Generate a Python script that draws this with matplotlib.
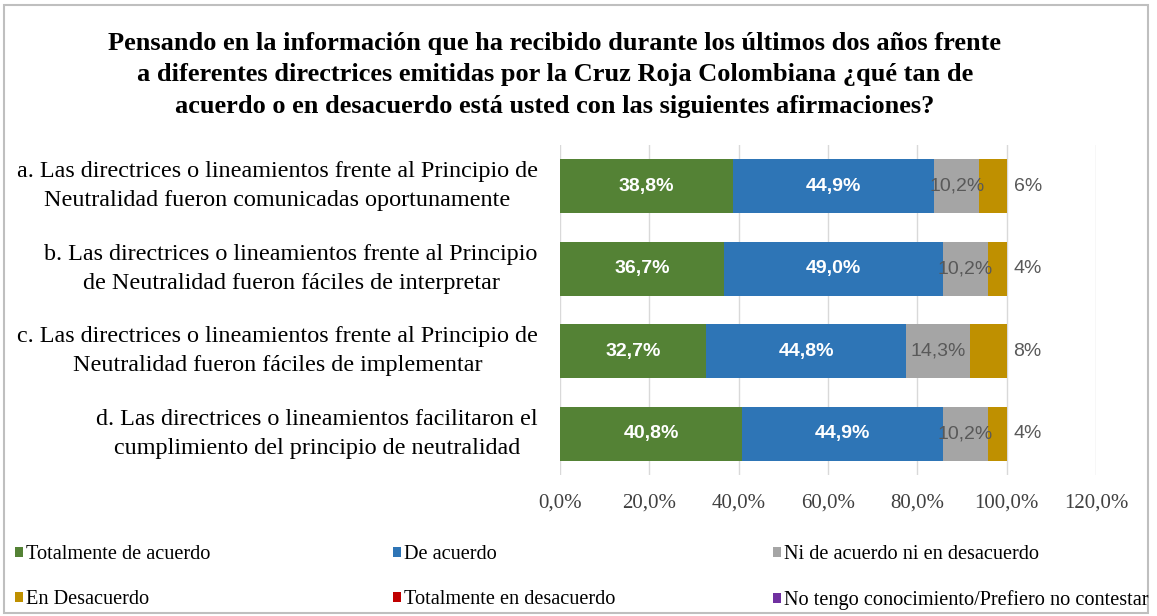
import numpy as np
import matplotlib.pyplot as plt
from matplotlib.patches import Patch, Rectangle

# datos
preguntas = [
    "a. Las directrices o lineamientos frente al Principio de\nNeutralidad fueron comunicadas oportunamente",
    "b. Las directrices o lineamientos frente al Principio\nde Neutralidad fueron fáciles de interpretar",
    "c. Las directrices o lineamientos frente al Principio de\nNeutralidad fueron fáciles de implementar",
    "d. Las directrices o lineamientos facilitaron el\ncumplimiento del principio de neutralidad",
]
totalmente_acuerdo = [38.8, 36.7, 32.7, 40.8]
de_acuerdo = [44.9, 49.0, 44.8, 44.9]
ni_ni = [10.2, 10.2, 14.3, 10.2]
en_desacuerdo = [6.1, 4.1, 8.2, 4.1]
en_desacuerdo_txt = ["6%", "4%", "8%", "4%"]
totalmente_desacuerdo = [0, 0, 0, 0]
no_sabe = [0, 0, 0, 0]

series = ["Totalmente de acuerdo", "De acuerdo", "Ni de acuerdo ni en desacuerdo",
          "En Desacuerdo", "Totalmente en desacuerdo", "No tengo conocimiento/Prefiero no contestar"]
colores = ["#548235", "#2E75B6", "#A5A5A5", "#BF9000", "#C00000", "#7030A0"]
xticks = [0, 20, 40, 60, 80, 100, 120]

titulo = ("Pensando en la información que ha recibido durante los últimos dos años frente\n"
          "a diferentes directrices emitidas por la Cruz Roja Colombiana ¿qué tan de\n"
          "acuerdo o en desacuerdo está usted con las siguientes afirmaciones?")

serif = ["Liberation Serif", "DejaVu Serif"]
narrow = ["Liberation Sans Narrow", "Liberation Sans", "DejaVu Sans"]

fig = plt.figure(figsize=(11.57, 6.16), dpi=100)
ax = fig.add_axes([560/1157, 1-475/616, 536/1157, 330/616])

y = np.arange(len(preguntas))
vals = [totalmente_acuerdo, de_acuerdo, ni_ni, en_desacuerdo, totalmente_desacuerdo, no_sabe]
left = np.zeros(len(preguntas))
rects = []
for v, c in zip(vals, colores):
    r = ax.barh(y, v, left=left, height=0.65, color=c, zorder=2)
    rects.append(r)
    left = left + np.array(v)

# etiquetas de datos
fmt = lambda lst: [f"{v:.1f}%".replace(".", ",") for v in lst]
ax.bar_label(rects[0], labels=fmt(totalmente_acuerdo), label_type="center", color="white",
             fontsize=14, fontweight="bold", family=narrow)
ax.bar_label(rects[1], labels=fmt(de_acuerdo), label_type="center", color="white",
             fontsize=14, fontweight="bold", family=narrow)
ax.bar_label(rects[2], labels=fmt(ni_ni), label_type="center", color="#595959",
             fontsize=14, family=narrow)
ax.bar_label(rects[3], labels=en_desacuerdo_txt, padding=5,
             color="#595959", fontsize=14, family=narrow)

ax.set_xlim(0, 120)
ax.set_ylim(len(preguntas) - 0.5, -0.5)
ax.set_xticks(xticks)
ax.set_xticklabels(fmt(xticks), family=serif, fontsize=15, color="#404040")
ax.set_yticks(y)
ax.set_yticklabels(preguntas, family=serif, fontsize=17.4)
for lbl in ax.get_yticklabels():
    lbl.set_multialignment("center")
    lbl.set_linespacing(1.5)
    lbl.set_verticalalignment("center")
ax.tick_params(axis="x", length=0, pad=13)
ax.tick_params(axis="y", length=0, pad=16)
ax.grid(axis="x", color="#D9D9D9", linewidth=1, zorder=0)
for s in ax.spines.values():
    s.set_visible(False)

fig.text(555/1157, 1-75/616, titulo, ha="center", va="center", family=serif,
         fontsize=19, fontweight="bold", linespacing=1.48)

# leyenda en tres columnas
cols_x = [15/1157, 393/1157, 773/1157]
for k in range(3):
    idx = [k, k + 3]
    handles = [Patch(facecolor=colores[i], edgecolor="none") for i in idx]
    fig.legend(handles, [series[i] for i in idx], loc="upper left",
               bbox_to_anchor=(cols_x[k], 1-545/616), frameon=False,
               prop={"family": serif, "size": 14.6}, handlelength=0.4, handleheight=0.4,
               handletextpad=0.15, labelspacing=1.3, borderpad=0, borderaxespad=0)

fig.patches.append(Rectangle((4/1157, 3/616), 1144/1157, 608/616, transform=fig.transFigure,
                             fill=False, edgecolor="#BFBFBF", linewidth=1.5))

fig.savefig("out.png", dpi=100)
